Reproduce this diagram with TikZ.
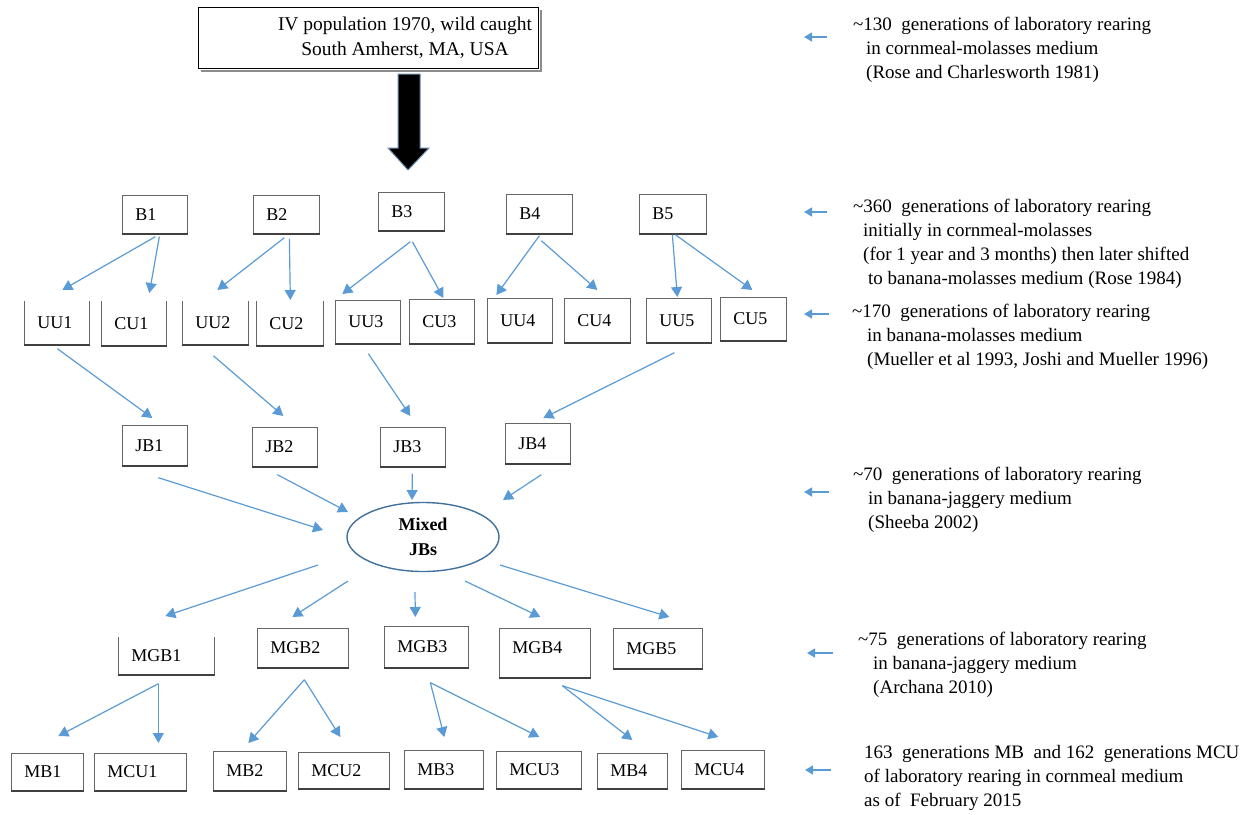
\documentclass[tikz,border=0pt]{standalone}
\usepackage{fontspec}
\setmainfont{Liberation Serif}
\usetikzlibrary{arrows.meta,calc,shapes.geometric}
\definecolor{arrblue}{HTML}{5B9BD5}
\definecolor{ellblue}{HTML}{41719C}
\newcommand\bx[7][]{%
  \pgfmathsetmacro\bxtw{#5-26}%
  \node[box, minimum width=#5pt, minimum height=#6pt, text width=\bxtw pt, #1] (#2) at (#3,#4) {#7};
  \draw[shadowline] (#2.south west) -- (#2.south east);}
\newcommand\obx[6]{%
  \pgfmathsetmacro\bxtw{#4-26}%
  \node[box, draw=none, minimum width=#4pt, minimum height=#5pt, text width=\bxtw pt] (#1) at (#2,#3) {#6};
  \draw[boxline] (#1.north west) -- (#1.south west) -- (#1.south east) -- (#1.north east);
  \draw[shadowline] (#1.south west) -- (#1.south east);}
\begin{document}
\begin{tikzpicture}[x=1pt,y=-1pt,
  boxline/.style={draw=black!60, line width=0.7pt},
  box/.style={boxline, fill=white, inner xsep=13pt, inner ysep=0pt, align=left,
    font=\fontsize{18}{21}\selectfont, anchor=north west},
  conn/.style={draw=arrblue, line width=1.2pt, -{Triangle[width=11pt,length=10pt]}},
  sconn/.style={draw=arrblue, line width=1.4pt, -{Triangle[width=9pt,length=8pt]}},
  note/.style={align=left, anchor=base west, inner sep=0pt, font=\fontsize{19}{24}\selectfont},
  shadowline/.style={draw=black!75, line width=1.6pt}
]
\useasboundingbox (0,0) rectangle (1249,814);

% top box
\node[draw=black, line width=1.2pt, minimum width=340pt, minimum height=61pt,
  anchor=north west, inner sep=0pt] (top) at (198,7) {};
\draw[black!45, line width=2pt] ($(top.south west)+(3,2)$) -- ($(top.south east)+(2,2)$) -- ($(top.north east)+(2,3)$);
\node[font=\fontsize{19.5}{25}\selectfont, align=center, inner sep=0pt] (toptxt) at (405,38)
  {IV population 1970, wild caught\\South Amherst, MA,\ USA};

% block arrow
\draw[fill=black, draw=ellblue!80, line width=1pt]
  (398,74) -- (420,74) -- (420,148) -- (429,148) -- (408,170) -- (388,148) -- (398,148) -- cycle;

% B row
\bx{B1}{122}{195}{65}{38}{B1}
\bx{B2}{253}{195}{66}{38}{B2}
\bx{B3}{378}{192}{66}{38}{B3}
\bx{B4}{506}{194}{66}{39}{B4}
\bx{B5}{639}{194}{67}{39}{B5}

% UU / CU row
\obx{UU1}{24}{301}{65}{43}{UU1}
\obx{CU1}{101}{301}{65}{44}{CU1}
\obx{UU2}{182}{301}{66}{43}{UU2}
\obx{CU2}{256}{301}{67}{44}{CU2}
\bx{UU3}{335}{300}{65}{43}{UU3}
\bx{CU3}{409}{299}{65}{44}{CU3}
\bx{UU4}{487}{298}{65}{44}{UU4}
\bx{CU4}{564}{298}{66}{44}{CU4}
\bx{UU5}{646}{298}{65}{44}{UU5}
\bx{CU5}{720}{297}{66}{43}{CU5}

% JB row
\bx{JB1}{122}{425}{65}{40}{JB1}
\bx{JB2}{252}{427}{65}{39}{JB2}
\bx{JB3}{380}{427}{65}{39}{JB3}
\bx{JB4}{505}{423}{65}{40}{JB4}

% mixed
\node[draw=ellblue, line width=1.4pt, ellipse, minimum width=152pt, minimum height=69pt,
  font=\bfseries\fontsize{18}{25}\selectfont, align=center, inner sep=0pt] (mix) at (423,537) {Mixed\\JBs};

% MGB row
\obx{MGB1}{118}{637}{96}{37}{MGB1}
\bx{MGB2}{257}{628}{91}{39}{MGB2}
\bx{MGB3}{384}{626}{84}{41}{MGB3}
\bx[text depth=11pt]{MGB4}{499}{628}{91}{49}{MGB4}
\bx{MGB5}{613}{628}{89}{40}{MGB5}

% bottom row
\bx{MB1}{11}{753}{72}{37}{MB1}
\bx{MCU1}{94}{753}{92}{37}{MCU1}
\bx{MB2}{213}{751}{73}{39}{MB2}
\bx{MCU2}{298}{752}{91}{36}{MCU2}
\bx{MB3}{404}{750}{79}{38}{MB3}
\bx{MCU3}{496}{751}{85}{37}{MCU3}
\bx{MB4}{597}{753}{70}{35}{MB4}
\bx{MCU4}{681}{750}{83}{38}{MCU4}

% connectors B -> UU/CU
\draw[conn] ([shift={(0.5,3)}]B1.south) -- ([shift={(5.5,-11)}]UU1.north);
\draw[conn] ([shift={(4.5,3)}]B1.south) -- ([shift={(15.5,-8)}]CU1.north);
\draw[conn] ([shift={(-2,4)}]B2.south) -- ([shift={(2,-11)}]UU2.north);
\draw[conn] ([shift={(3,5)}]B2.south) -- ([shift={(0.5,-1)}]CU2.north);
\draw[conn] ([shift={(-1,11)}]B3.south) -- ([shift={(-25.5,-6)}]UU3.north);
\draw[conn] ([shift={(1,11)}]B3.south) -- ([shift={(1.5,-1)}]CU3.north);
\draw[conn] ([shift={(0,2)}]B4.south) -- ([shift={(-23.5,-3)}]UU4.north);
\draw[conn] ([shift={(2,7)}]B4.south) -- ([shift={(0,-8)}]CU4.north);
\draw[conn] ([shift={(-0.5,1)}]B5.south) -- ([shift={(-1.5,-1)}]UU5.north);
\draw[conn] ([shift={(2.5,1)}]B5.south) -- ([shift={(-1,-7)}]CU5.north);

% UU -> JB
\draw[conn] ([shift={(0.5,4)}]UU1.south) -- ([shift={(-2.5,-7)}]JB1.north);
\draw[conn] ([shift={(-2,11)}]UU2.south) -- ([shift={(-1.5,-11)}]JB2.north);
\draw[conn] ([shift={(0.5,10)}]UU3.south) -- ([shift={(-2.5,-11)}]JB3.north);
\draw[conn] ([shift={(-4.5,10)}]UU5.south) -- ([shift={(5.5,-5)}]JB4.north);

% JB -> mixed
\draw[conn] ([shift={(3.5,12)}]JB1.south) -- ([shift={(-100,-7)}]mix.center);
\draw[conn] ([shift={(-7.5,8)}]JB2.south) -- ([shift={(-75,-25)}]mix.center);
\draw[conn] ([shift={(-0.5,7)}]JB3.south) -- ([shift={(-11,-37)}]mix.center);
\draw[conn] ([shift={(3.5,11)}]JB4.south) -- ([shift={(80,-37)}]mix.center);

% mixed -> MGB
\draw[conn] ([shift={(-105,28)}]mix.center) -- ([shift={(-1,-21)}]MGB1.north);
\draw[conn] ([shift={(-75,44)}]mix.center) -- ([shift={(-10.5,-11)}]MGB2.north);
\draw[conn] ([shift={(-8,55)}]mix.center) -- ([shift={(-11,-9)}]MGB3.north);
\draw[conn] ([shift={(42,44)}]mix.center) -- ([shift={(-4.5,-11)}]MGB4.north);
\draw[conn] ([shift={(77,28)}]mix.center) -- ([shift={(11.5,-11)}]MGB5.north);

% MGB -> bottom
\draw[conn] ([shift={(-8,9)}]MGB1.south) -- ([shift={(11,-17)}]MB1.north);
\draw[conn] ([shift={(-8,9)}]MGB1.south) -- ([shift={(18,-10)}]MCU1.north);
\draw[conn] ([shift={(1.5,12)}]MGB2.south) -- ([shift={(-1.5,-8)}]MB2.north);
\draw[conn] ([shift={(1.5,12)}]MGB2.south) -- ([shift={(-3.5,-15)}]MCU2.north);
\draw[conn] ([shift={(4,15)}]MGB3.south) -- ([shift={(0.5,-13)}]MB3.north);
\draw[conn] ([shift={(4,15)}]MGB3.south) -- ([shift={(0.5,-14)}]MCU3.north);
\draw[conn] ([shift={(17.5,8)}]MGB4.south) -- ([shift={(0,-13)}]MB4.north);
\draw[conn] ([shift={(17.5,8)}]MGB4.south) -- ([shift={(-4.5,-13)}]MCU4.north);

% notes (base anchor = baseline of the last line)
\node[note] (n1) at (853,78) {\textasciitilde130\ \ generations of laboratory rearing\\
  \hspace*{13pt}in cornmeal-molasses medium\\
  \hspace*{13pt}(Rose and Charlesworth 1981)};
\node[note] (n2) at (853,284) {\textasciitilde360\ \ generations of laboratory rearing\\
  \hspace*{10pt}initially in cornmeal-molasses\\
  \hspace*{10pt}(for 1 year and 3 months) then later shifted\\
  \hspace*{15pt}to banana-molasses medium (Rose 1984)};
\node[note] (n3) at (852,365) {\textasciitilde170\ \ generations of laboratory rearing\\
  \hspace*{15pt}in banana-molasses medium\\
  \hspace*{15pt}(Mueller et al 1993, Joshi and Mueller 1996)};
\node[note] (n4) at (853,528) {\textasciitilde70\ \ generations of laboratory rearing\\
  \hspace*{15pt}in banana-jaggery medium\\
  \hspace*{15pt}(Sheeba 2002)};
\node[note] (n5) at (858,693) {\textasciitilde75\ \ generations of laboratory rearing\\
  \hspace*{15pt}in banana-jaggery medium\\
  \hspace*{15pt}(Archana 2010)};
\node[note] (n6) at (864,806) {163\ \ generations MB\ \ and 162\ \ generations MCU\\
  of laboratory rearing in cornmeal medium\\
  as of\ \ February 2015};

% note arrows
\coordinate (a1s) at (827,37);  \coordinate (a1e) at (804,37);
\coordinate (a2s) at (827,212); \coordinate (a2e) at (804,212);
\coordinate (a3s) at (829,314); \coordinate (a3e) at (804,314);
\coordinate (a4s) at (829,492); \coordinate (a4e) at (804,492);
\coordinate (a5s) at (833,653); \coordinate (a5e) at (807,653);
\coordinate (a6s) at (831,770); \coordinate (a6e) at (805,770);
\draw[sconn] (a1s) -- (a1e);
\draw[sconn] (a2s) -- (a2e);
\draw[sconn] (a3s) -- (a3e);
\draw[sconn] (a4s) -- (a4e);
\draw[sconn] (a5s) -- (a5e);
\draw[sconn] (a6s) -- (a6e);
\end{tikzpicture}
\end{document}
